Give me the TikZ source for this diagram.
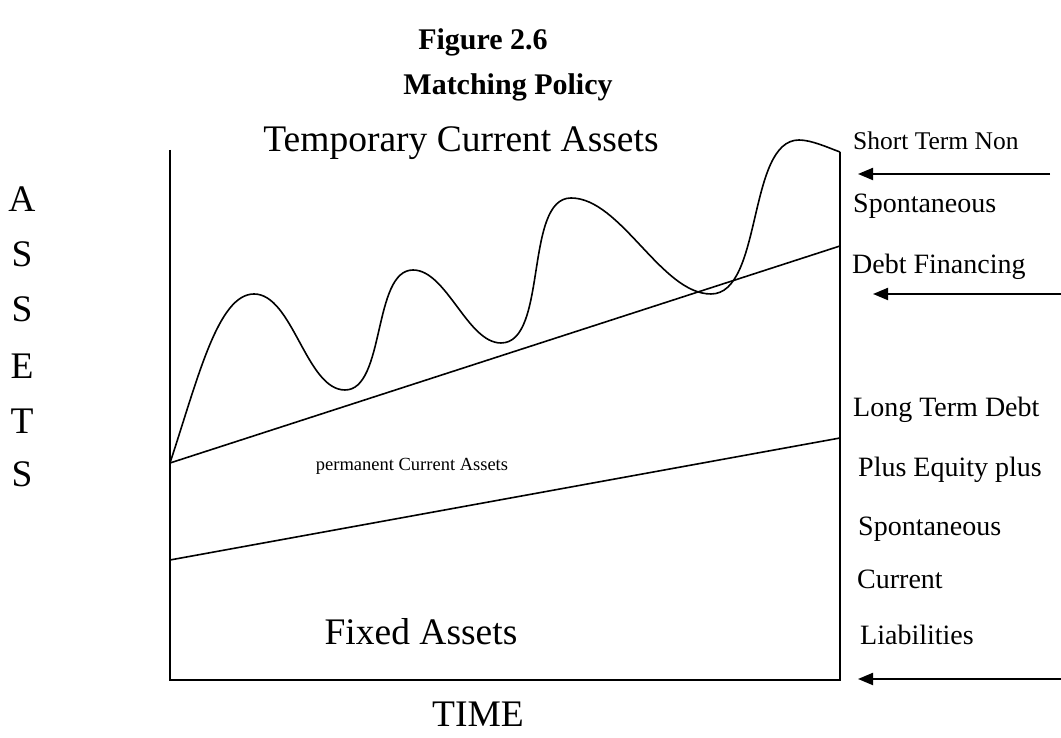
\documentclass[tikz,border=0pt]{standalone}
\usepackage{fontspec}
\setmainfont{Liberation Serif}
\usetikzlibrary{arrows.meta}

\tikzset{
  bigtext/.style={font=\fontsize{37.5}{44}\selectfont, anchor=base, inner sep=0pt},
  sidetext/.style={font=\fontsize{28}{32}\selectfont, anchor=base west, inner sep=0pt},
  titletext/.style={font=\fontsize{30}{34}\selectfont\bfseries, anchor=base, inner sep=0pt},
  flow/.style={-{Triangle[length=15pt,width=12pt]}, line width=2pt},
  axis/.style={line width=2pt},
  trend/.style={line width=1.6pt}
}

\begin{document}
\begin{tikzpicture}[x=1pt, y=1pt]
    \useasboundingbox (0,0) rectangle (1061,738);

    % titles
    \node[titletext] (fig) at (483,688) {Figure 2.6};
    \node[titletext] (policy) at (508,643) {Matching Policy};

    % axes
    \coordinate (ytop) at (170,588);
    \coordinate (orig) at (170,58);
    \coordinate (xend) at (840,58);
    \coordinate (rtop) at (840,586);
    \draw[axis] (ytop) -- (orig) -- (xend) -- (rtop);

    % permanent assets lines
    \coordinate (fa0) at (170,178);
    \coordinate (fa1) at (840,300);
    \coordinate (pca0) at (170,275);
    \coordinate (pca1) at (840,492);
    \draw[trend] (fa0) -- (fa1);
    \draw[trend] (pca0) -- (pca1);

    % temporary current assets
    \draw[trend, looseness=0.75] (pca0) .. controls (198,360) and (218,444) .. (254,444)
        to[out=0,in=180] (345,348)
        to[out=0,in=180] (413,468)
        to[out=0,in=180] (501,395)
        to[out=0,in=180] (571,540)
        to[out=0,in=180] (711,444)
        to[out=0,in=180] (799,598)
        to[out=0,in=160] (rtop);

    % area labels
    \node[bigtext] (temp) at (461,586) {Temporary Current Assets};
    \node[font=\fontsize{18.5}{22}\selectfont, anchor=base, inner sep=0pt] (perm) at (412,267) {permanent Current Assets};
    \node[bigtext] (fixed) at (421,93) {Fixed Assets};
    \node[bigtext] (time) at (478,11) {TIME};

    % vertical axis label
    \foreach \ch/\yy [count=\i] in {A/526, S/471, S/416, E/359, T/304, S/251}
        \node[bigtext] (ax\i) at (22,\yy) {\ch};

    % financing
    \node[sidetext, font=\fontsize{25.5}{30}\selectfont] (st1) at (853,588) {Short Term Non};
    \node[sidetext] (st2) at (853,525) {Spontaneous};
    \node[sidetext] (st3) at (852,464) {Debt Financing};
    \node[sidetext] (lt1) at (853,321) {Long Term Debt};
    \node[sidetext] (lt2) at (858,261) {Plus Equity plus};
    \node[sidetext] (lt3) at (858,202) {Spontaneous};
    \node[sidetext] (lt4) at (857,149) {Current};
    \node[sidetext] (lt5) at (860,93) {Liabilities};

    \coordinate (a1s) at (1050,564);
    \coordinate (a1e) at (858,564);
    \coordinate (a2s) at (1061,444);
    \coordinate (a2e) at (873,444);
    \coordinate (a3s) at (1061,59);
    \coordinate (a3e) at (858,59);
    \draw[flow] (a1s) -- (a1e);
    \draw[flow] (a2s) -- (a2e);
    \draw[flow] (a3s) -- (a3e);
\end{tikzpicture}
\end{document}
